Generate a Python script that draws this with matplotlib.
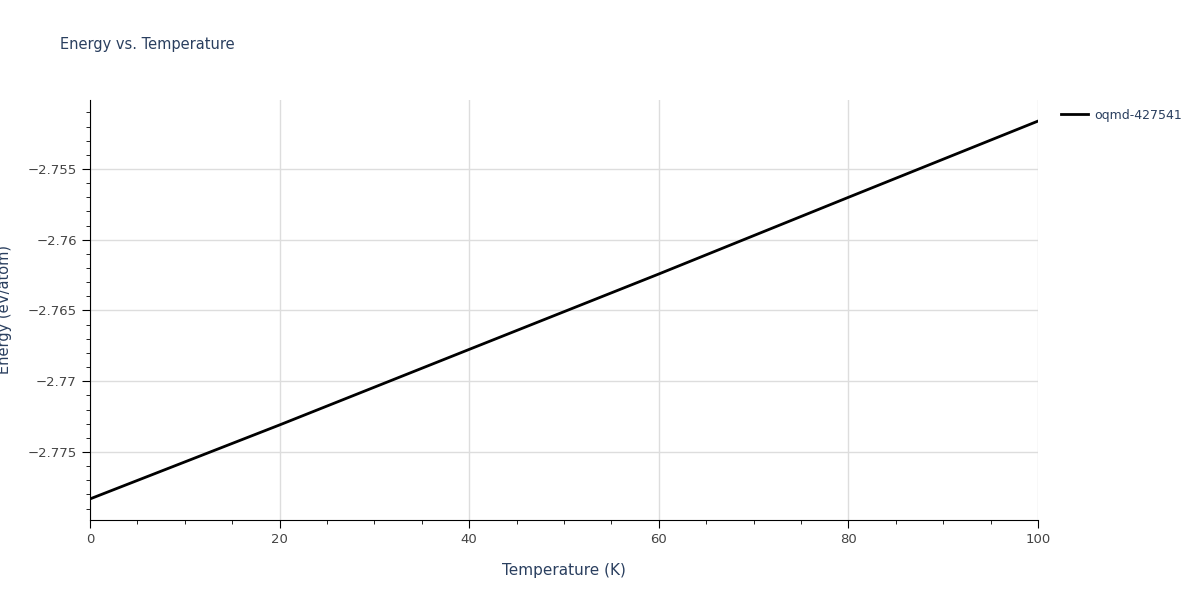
import matplotlib
matplotlib.use("Agg")
import matplotlib.pyplot as plt
from matplotlib.ticker import MultipleLocator, FuncFormatter

temps = [0, 20, 40, 60, 80, 100]
energy = [-2.77832, -2.77309, -2.76775, -2.76242, -2.75700, -2.75161]
label = "oqmd-427541"

fig = plt.figure(figsize=(12, 6), dpi=100)
ax = fig.add_axes([90/1200, 80/600, 948/1200, 420/600])
ax.plot(temps, energy, color="black", lw=2, label=label)
ax.set_xlim(0, 100)
ax.set_ylim(-2.77981, -2.75012)
ax.xaxis.set_major_locator(MultipleLocator(20))
ax.xaxis.set_minor_locator(MultipleLocator(5))
ax.yaxis.set_major_locator(MultipleLocator(0.005))
ax.yaxis.set_minor_locator(MultipleLocator(0.001))
ax.yaxis.set_major_formatter(FuncFormatter(lambda v, p: ("%g" % round(v, 4)).replace("-", "\u2212")))
ax.grid(True, which="major", color="#dddddd", lw=1)
ax.set_axisbelow(True)
for s in ["top", "right"]:
    ax.spines[s].set_visible(False)
for s in ["left", "bottom"]:
    ax.spines[s].set_color("black")
tc = "#444444"
ax.tick_params(which="major", length=6, colors="black", labelcolor=tc, labelsize=9.5)
ax.tick_params(which="minor", length=3, colors="black")
ax.set_xlabel("Temperature (K)", color="#2a3f5f", fontsize=11, labelpad=12)
ax.set_ylabel("Energy (eV/atom)", color="#2a3f5f", fontsize=10.5)
ax.yaxis.set_label_coords(-78/948, 0.5)
fig.text(60/1200, 1-45/600, "Energy vs. Temperature", color="#2a3f5f", fontsize=10.5, va="center")
ax.legend(loc="upper left", bbox_to_anchor=(1.015, 1.0), frameon=False, fontsize=9,
          handlelength=2.2, handletextpad=0.5, borderaxespad=0.3, labelcolor="#2a3f5f")
fig.savefig("out.png", dpi=100)
